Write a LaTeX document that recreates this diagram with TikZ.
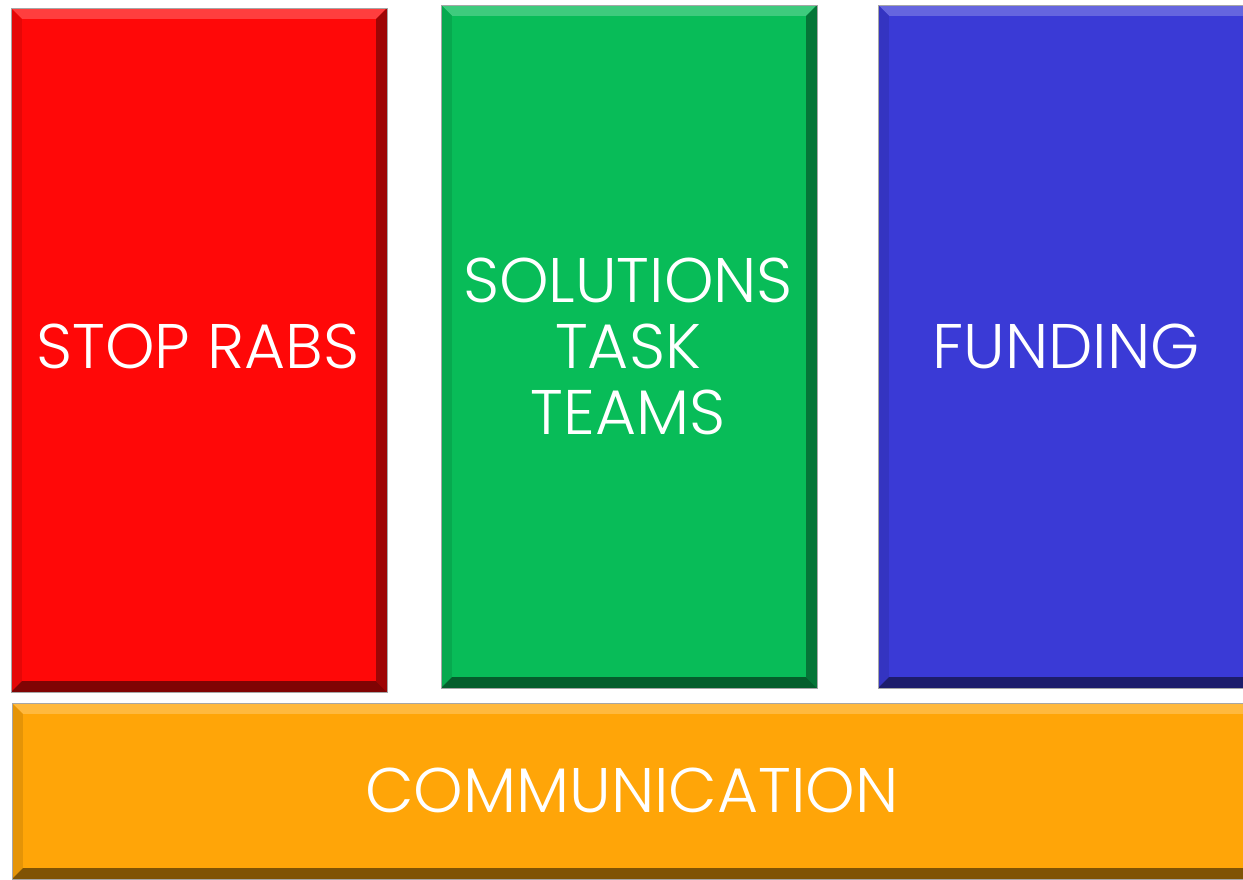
\documentclass[tikz,border=0pt]{standalone}
\usepackage{fontspec}
\newfontfamily\popfont{Poppins Light}
\definecolor{cred}{HTML}{FF0808}
\definecolor{cgreen}{HTML}{08BC58}
\definecolor{cblue}{HTML}{3A3AD6}
\definecolor{corange}{HTML}{FFA508}
\tikzset{
  lbl/.style={text=white,font=\popfont\fontsize{63}{66}\selectfont,align=center,inner sep=0pt},
}
\newcommand\bevbox[7]{%
  % #1 x1 #2 y1 #3 x2 #4 y2 #5 colour #6 name #7 text
  \fill[#5] (#1,#2) rectangle (#3,#4);
  \fill[#5!78!white] (#1,#2) -- (#3,#2) -- ({#3-11},{#2+11}) -- ({#1+11},{#2+11}) -- cycle;
  \fill[#5!90!black] (#1,#2) -- ({#1+11},{#2+11}) -- ({#1+11},{#4-11}) -- (#1,#4) -- cycle;
  \fill[#5!62!black] (#3,#2) -- (#3,#4) -- ({#3-11},{#4-11}) -- ({#3-11},{#2+11}) -- cycle;
  \fill[#5!50!black] (#1,#4) -- (#3,#4) -- ({#3-11},{#4-11}) -- ({#1+11},{#4-11}) -- cycle;
  \fill[#5] ({#1+11},{#2+11}) rectangle ({#3-11},{#4-11});
  \draw[gray!70,line width=1] (#1,#2) rectangle (#3,#4);
  \node[lbl] (#6) at ({(#1+#3)/2},{(#2+#4)/2}) {#7};
}
\begin{document}
\begin{tikzpicture}[x=1pt,y=-1pt]
\useasboundingbox (0,0) rectangle (1243,879);
\clip (0,0) rectangle (1243,879);
\fill[white] (0,0) rectangle (1243,879);
\bevbox{11}{8}{387}{692}{cred}{stop}{}
\bevbox{441}{5}{817}{688}{cgreen}{sol}{}
\bevbox{878}{5}{1260}{688}{cblue}{fund}{}
\bevbox{12}{703}{1260}{879}{corange}{comm}{}
\node[lbl] (stoptxt) at (198,346) {STOP RABS};
\node[lbl,text width=400pt] (soltxt) at (628,346) {SOLUTIONS\\TASK\\TEAMS};
\node[lbl] (fundtxt) at (1066,346) {FUNDING};
\node[lbl] (commtxt) at (632,790) {COMMUNICATION};
\end{tikzpicture}
\end{document}
